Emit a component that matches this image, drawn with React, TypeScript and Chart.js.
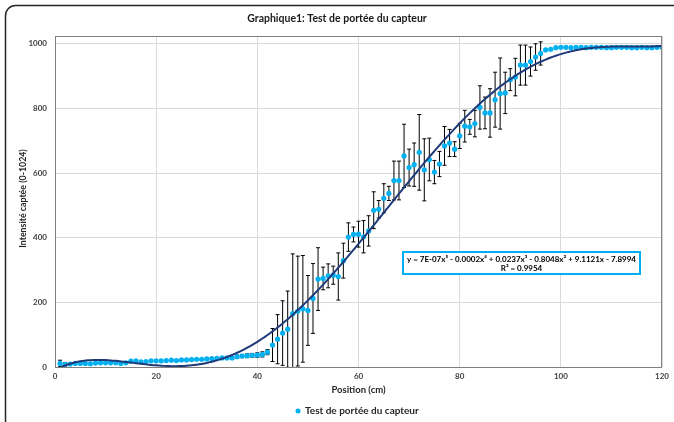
import React, { useEffect, useRef } from "react";
import { Chart, registerables } from "chart.js";

Chart.register(...registerables);

const TITLE = "Graphique1: Test de portée du capteur";
const X_TITLE = "Position (cm)";
const Y_TITLE = "Intensité captée (0-1024)";
const SERIES_NAME = "Test de portée du capteur";
const EQUATION = "y = 7E-07x⁵ - 0.0002x⁴ + 0.0237x³ - 0.8048x² + 9.1121x - 7.8994";
const R2 = "R² = 0.9954";

const positions = [
  1, 2, 3, 4, 5, 6, 7, 8, 9, 10, 11, 12, 13, 14, 15, 16, 17, 18, 19, 20,
  21, 22, 23, 24, 25, 26, 27, 28, 29, 30, 31, 32, 33, 34, 35, 36, 37, 38, 39, 40,
  41, 42, 43, 44, 45, 46, 47, 48, 49, 50, 51, 52, 53, 54, 55, 56, 57, 58, 59, 60,
  61, 62, 63, 64, 65, 66, 67, 68, 69, 70, 71, 72, 73, 74, 75, 76, 77, 78, 79, 80,
  81, 82, 83, 84, 85, 86, 87, 88, 89, 90, 91, 92, 93, 94, 95, 96, 97, 98, 99, 100,
  101, 102, 103, 104, 105, 106, 107, 108, 109, 110, 111, 112, 113, 114, 115, 116, 117, 118, 119, 120,
];

const intensity = [
  11, 8, 9, 11, 11, 11, 10, 12, 13, 13, 13, 13, 11, 13, 18, 19, 16, 17, 19, 19,
  19, 20, 21, 20, 22, 22, 23, 24, 24, 25, 26, 27, 28, 28, 28, 32, 34, 35, 36, 37,
  39, 46, 68, 86, 105, 117, 165, 173, 180, 175, 212, 272, 274, 282, 284, 280, 329, 402, 410, 411,
  403, 421, 485, 488, 522, 537, 577, 577, 653, 617, 626, 664, 610, 642, 603, 628, 684, 693, 674, 715,
  745, 743, 753, 803, 786, 786, 827, 846, 848, 889, 897, 934, 934, 945, 959, 970, 981, 983, 988, 989,
  989, 988, 989, 989, 988, 989, 989, 989, 988, 988, 989, 989, 989, 988, 988, 989, 988, 988, 989, 989,
];

const errors = [
  10, 6, 0, 0, 0, 0, 0, 0, 0, 0, 0, 0, 0, 0, 0, 0, 0, 0, 0, 0,
  0, 0, 0, 0, 0, 0, 0, 0, 0, 0, 0, 0, 0, 0, 4, 5, 5, 6, 6, 7,
  8, 8, 51, 76, 100, 118, 185, 170, 165, 108, 108, 97, 35, 37, 28, 73, 54, 44, 23, 40,
  50, 47, 57, 27, 45, 22, 60, 60, 98, 57, 67, 117, 96, 66, 36, 39, 60, 42, 23, 39,
  49, 23, 41, 67, 49, 75, 85, 110, 64, 34, 58, 62, 62, 45, 41, 36, 0, 0, 0, 0,
  0, 0, 0, 0, 0, 0, 0, 0, 0, 0, 0, 0, 0, 0, 0, 0, 0, 0, 0, 0,
];

const yTicks = [0, 200, 400, 600, 800, 1000];
const TREND_DEGREE = 5;

// Least-squares polynomial fit (like Excel's polynomial trendline), on x/100 for conditioning
function polyfit(xs: number[], ys: number[], deg: number): number[] {
  const n = deg + 1;
  const A: number[][] = Array.from({ length: n }, () => new Array(n + 1).fill(0));
  for (let k = 0; k < xs.length; k++) {
    const t = xs[k] / 100;
    const pw: number[] = [1];
    for (let i = 1; i < 2 * n; i++) pw.push(pw[i - 1] * t);
    for (let i = 0; i < n; i++) {
      for (let j = 0; j < n; j++) A[i][j] += pw[i + j];
      A[i][n] += pw[i] * ys[k];
    }
  }
  for (let c = 0; c < n; c++) {
    let p = c;
    for (let r = c + 1; r < n; r++) if (Math.abs(A[r][c]) > Math.abs(A[p][c])) p = r;
    [A[c], A[p]] = [A[p], A[c]];
    for (let r = 0; r < n; r++) {
      if (r === c) continue;
      const f = A[r][c] / A[c][c];
      for (let k = c; k <= n; k++) A[r][k] -= f * A[c][k];
    }
  }
  return A.map((row, i) => row[n] / row[i]);
}

const coeffs = polyfit(positions, intensity, TREND_DEGREE);
const evalPoly = (x: number) => {
  const t = x / 100;
  let s = 0;
  for (let i = coeffs.length - 1; i >= 0; i--) s = s * t + coeffs[i];
  return s;
};

const FONT = "Lato, 'Open Sans', sans-serif";
const POINT_COLOR = "#00b0f0";
const TREND_COLOR = "#1f3a78";

const decorPlugin = {
  id: "decor",
  beforeDraw(chart: any) {
    const { ctx } = chart;
    ctx.save();
    ctx.fillStyle = "#fff";
    ctx.fillRect(0, 0, chart.width, chart.height);
    ctx.strokeStyle = "#262626";
    ctx.lineWidth = 1.5;
    ctx.beginPath();
    ctx.roundRect(5.5, 5.5, 720, 460, 10);
    ctx.stroke();
    ctx.restore();
  },
  beforeDatasetsDraw(chart: any) {
    const { ctx, chartArea } = chart;
    const xs = chart.scales.x;
    const ys = chart.scales.y;
    ctx.save();
    ctx.beginPath();
    ctx.rect(chartArea.left, chartArea.top, chartArea.right - chartArea.left, chartArea.bottom - chartArea.top);
    ctx.clip();
    ctx.strokeStyle = "#000";
    ctx.lineWidth = 1;
    for (let i = 0; i < positions.length; i++) {
      const e = errors[i];
      if (!e) continue;
      const px = xs.getPixelForValue(positions[i]);
      const top = ys.getPixelForValue(intensity[i] + e);
      const bot = ys.getPixelForValue(intensity[i] - e);
      ctx.beginPath();
      ctx.moveTo(px, top);
      ctx.lineTo(px, bot);
      ctx.moveTo(px - 2, top);
      ctx.lineTo(px + 2, top);
      ctx.moveTo(px - 2, bot);
      ctx.lineTo(px + 2, bot);
      ctx.stroke();
    }
    ctx.restore();
  },
  afterDraw(chart: any) {
    const { ctx, chartArea } = chart;
    ctx.save();
    // plot border
    ctx.strokeStyle = "#808080";
    ctx.lineWidth = 1;
    ctx.strokeRect(chartArea.left + 0.5, chartArea.top + 0.5, chartArea.right - chartArea.left - 1, chartArea.bottom - chartArea.top);
    // title
    ctx.fillStyle = "#1a1a1a";
    ctx.textAlign = "center";
    ctx.textBaseline = "middle";
    ctx.font = `bold 10.5px ${FONT}`;
    ctx.fillText(TITLE, 337, 19);
    // axis titles
    ctx.fillStyle = "#262626";
    ctx.font = `bold 9.5px ${FONT}`;
    ctx.fillText(X_TITLE, (chartArea.left + chartArea.right) / 2, 390);
    ctx.save();
    ctx.translate(23, (chartArea.top + chartArea.bottom) / 2 - 3);
    ctx.rotate(-Math.PI / 2);
    ctx.font = `bold 8.8px ${FONT}`;
    ctx.fillText(Y_TITLE, 0, 0);
    ctx.restore();
    // legend
    ctx.fillStyle = POINT_COLOR;
    ctx.beginPath();
    ctx.arc(298, 411, 2.5, 0, Math.PI * 2);
    ctx.fill();
    ctx.fillStyle = "#262626";
    ctx.textAlign = "left";
    ctx.font = `bold 10px ${FONT}`;
    ctx.fillText(SERIES_NAME, 305, 411);
    // equation box
    ctx.fillStyle = "#fff";
    ctx.fillRect(403, 252, 237, 22);
    ctx.strokeStyle = POINT_COLOR;
    ctx.lineWidth = 2;
    ctx.strokeRect(403, 252, 237, 22);
    ctx.fillStyle = "#000";
    ctx.textAlign = "center";
    ctx.font = `bold 8px ${FONT}`;
    ctx.fillText(EQUATION, 521.5, 259);
    ctx.fillText(R2, 521.5, 268.5);
    ctx.restore();
  },
};

export default function App() {
  const ref = useRef<HTMLCanvasElement>(null);
  useEffect(() => {
    if (!ref.current) return;
    const trend: { x: number; y: number }[] = [];
    for (let x = 0; x <= 120; x += 0.5) trend.push({ x, y: evalPoly(x) });
    const chart = new Chart(ref.current, {
      type: "scatter",
      data: {
        datasets: [
          {
            label: "Courbe de tendance",
            data: trend,
            showLine: true,
            borderColor: TREND_COLOR,
            borderWidth: 2,
            pointRadius: 0,
            fill: false,
            order: 0,
          },
          {
            label: SERIES_NAME,
            data: positions.map((x, i) => ({ x, y: intensity[i] })),
            backgroundColor: POINT_COLOR,
            borderWidth: 0,
            pointRadius: 2.6,
            order: 1,
          },
        ],
      },
      options: {
        animation: false,
        responsive: false,
        devicePixelRatio: 1,
        layout: { padding: { left: 0, right: 7, top: 36, bottom: 0 } },
        plugins: { legend: { display: false }, title: { display: false }, tooltip: { enabled: false } },
        scales: {
          x: {
            type: "linear",
            min: 0,
            max: 120,
            ticks: { stepSize: 20, padding: 5, color: "#404040", font: { family: FONT, size: 8, weight: "bold" }, callback: (v: any) => String(v) },
            grid: { color: "#d9d9d9", drawTicks: false },
            border: { display: false },
            afterFit: (s: any) => { s.height = 55; },
          },
          y: {
            type: "linear",
            min: 0,
            max: 1024,
            ticks: { padding: 8, color: "#404040", font: { family: FONT, size: 8, weight: "bold" }, callback: (v: any) => String(v) },
            afterBuildTicks: (s: any) => { s.ticks = yTicks.map((v) => ({ value: v })); },
            grid: { color: "#d9d9d9", drawTicks: false },
            border: { display: false },
            afterFit: (s: any) => { s.width = 55; },
          },
        },
      },
      plugins: [decorPlugin],
    } as any);
    return () => chart.destroy();
  }, []);
  return (
    <div style={{ position: "fixed", left: 0, top: 0, width: 674, height: 422, overflow: "hidden", background: "#fff" }}>
      <canvas ref={ref} width={674} height={422} style={{ display: "block", width: 674, height: 422 }} />
    </div>
  );
}
